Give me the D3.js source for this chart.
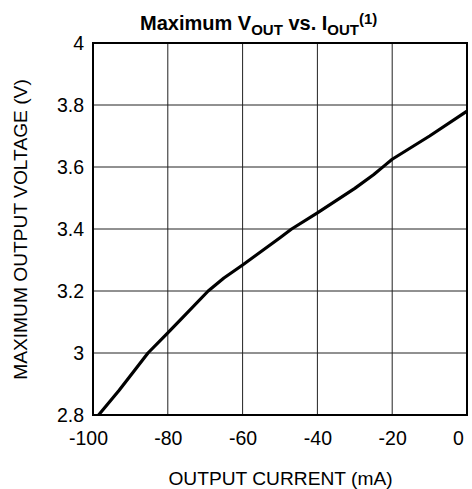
<!DOCTYPE html>
<html>
<head>
<meta charset="utf-8">
<script src="https://cdn.jsdelivr.net/npm/d3@7"></script>
<style>
  html, body { margin: 0; padding: 0; background: #fff; }
  svg { display: block; font-family: "Liberation Sans", Arial, sans-serif; }
</style>
</head>
<body>
<svg id="chart" width="472" height="489"></svg>
<script>
// Output current (mA) and the maximum output voltage (V) at that load
const currentMA = [-98.5, -93, -88.5, -85.3, -80, -76.7, -69.2, -65, -60, -50, -46.9, -40, -30, -25, -21.9, -20, -10, 0];
const voltageV  = [2.80, 2.88, 2.95, 3.00, 3.065, 3.106, 3.20, 3.242, 3.284, 3.372, 3.40, 3.452, 3.531, 3.575, 3.606, 3.625, 3.70, 3.78];

const xTicks = [-100, -80, -60, -40, -20, 0];
const yTicks = [2.8, 3.0, 3.2, 3.4, 3.6, 3.8, 4.0];

const svg = d3.select("#chart");
const plotL = 93, plotR = 467, plotT = 43, plotB = 415;

const x = d3.scaleLinear().domain([-100, 0]).range([plotL, plotR]);
const y = d3.scaleLinear().domain([2.8, 4.0]).range([plotB, plotT]);

// grid
const grid = svg.append("g");
grid.selectAll("line.v").data(xTicks.slice(1, -1)).join("line")
  .attr("x1", d => x(d)).attr("x2", d => x(d))
  .attr("y1", plotT).attr("y2", plotB)
  .attr("stroke", "#222").attr("stroke-width", 1);
grid.selectAll("line.h").data(yTicks.slice(1, -1)).join("line")
  .attr("x1", plotL).attr("x2", plotR)
  .attr("y1", d => y(d)).attr("y2", d => y(d))
  .attr("stroke", "#222").attr("stroke-width", 1);

// frame
svg.append("rect")
  .attr("x", plotL).attr("y", plotT)
  .attr("width", plotR - plotL).attr("height", plotB - plotT)
  .attr("fill", "none").attr("stroke", "#000").attr("stroke-width", 2);

// axes (labels only; the frame and grid provide the lines)
const fmtY = d => (d === 3 ? "3" : d === 4 ? "4" : d3.format(".1f")(d));
const fmtX = d => String(d); // plain hyphen-minus
const yAxis = svg.append("g").attr("transform", `translate(${plotL},0)`)
  .call(d3.axisLeft(y).tickValues(yTicks).tickFormat(fmtY).tickSize(0).tickPadding(9));
const xAxis = svg.append("g").attr("transform", `translate(0,${plotB})`)
  .call(d3.axisBottom(x).tickValues(xTicks).tickFormat(fmtX).tickSize(0).tickPadding(16));
[yAxis, xAxis].forEach(a => {
  a.select(".domain").remove();
  a.selectAll("text").attr("font-size", 19.5).attr("fill", "#000")
    .attr("font-family", "'Liberation Sans', Arial, sans-serif");
});
// end labels sit slightly inward of their grid positions
xAxis.selectAll("text").attr("dx", d => (d === -100 ? -5 : d === 0 ? -9 : 0));

// curve
const pts = currentMA.map((c, i) => [c, voltageV[i]]);
svg.append("path")
  .datum(pts)
  .attr("d", d3.line().x(d => x(d[0])).y(d => y(d[1])))
  .attr("fill", "none").attr("stroke", "#000").attr("stroke-width", 3.2)
  .attr("stroke-linejoin", "round");

// axis titles
svg.append("text")
  .attr("x", 280.5).attr("y", 485)
  .attr("text-anchor", "middle").attr("font-size", 19.2)
  .text("OUTPUT CURRENT (mA)");
svg.append("text")
  .attr("transform", `translate(27,229.5) rotate(-90)`)
  .attr("text-anchor", "middle").attr("font-size", 19.2)
  .text("MAXIMUM OUTPUT VOLTAGE (V)");

// chart title with sub/superscripts
const title = svg.append("text")
  .attr("x", 140).attr("y", 30)
  .attr("text-anchor", "start").attr("font-size", 20).attr("font-weight", "bold");
title.append("tspan").text("Maximum V");
title.append("tspan").attr("font-size", 15).attr("dy", 5).text("OUT");
title.append("tspan").attr("dy", -5).text(" vs. I");
title.append("tspan").attr("font-size", 15).attr("dy", 5).text("OUT");
title.append("tspan").attr("font-size", 15).attr("dy", -11).text("(1)");
</script>
</body>
</html>
